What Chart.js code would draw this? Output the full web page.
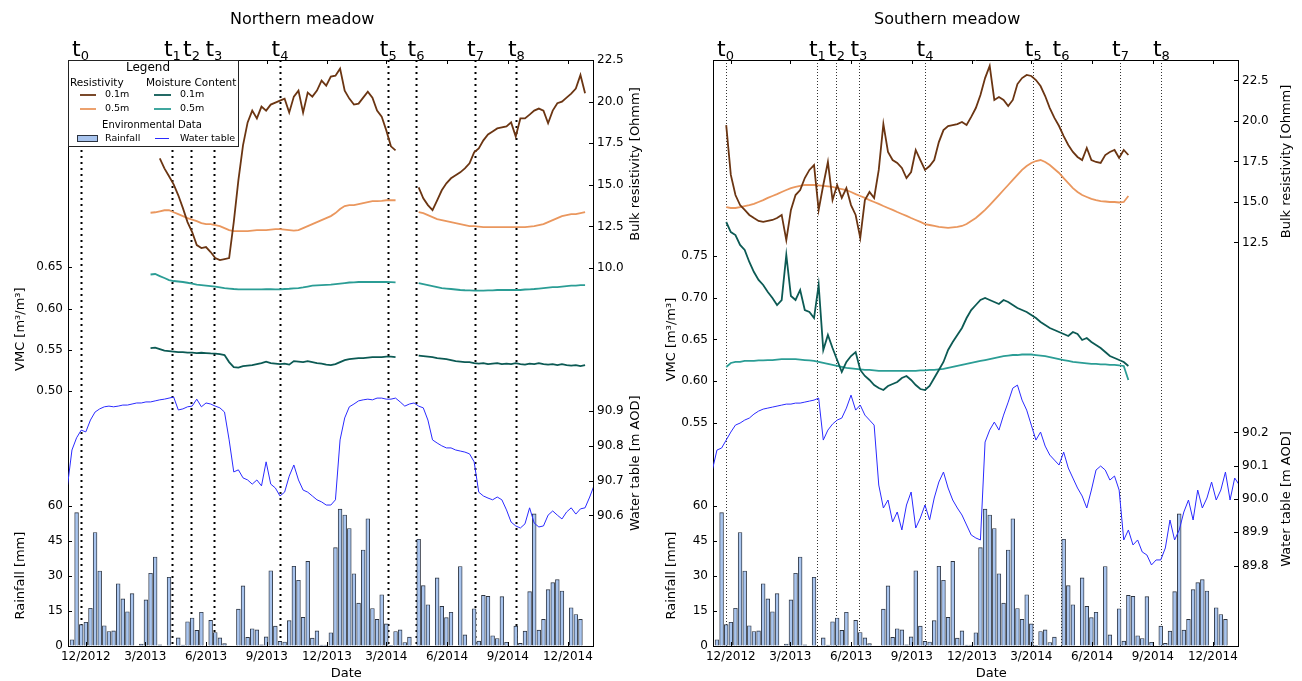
<!DOCTYPE html>
<html>
<head>
<meta charset="utf-8">
<script src="https://cdn.jsdelivr.net/npm/chart.js@4.4.1/dist/chart.umd.min.js"></script>
<style>
  body { margin: 0; background: #fff; width: 1302px; height: 681px; overflow: hidden; position: relative; }
  canvas { position: absolute; top: 0; }
  #north { left: 0; }
  #south { left: 651px; }
</style>
</head>
<body>
<canvas id="north" width="651" height="681"></canvas>
<canvas id="south" width="651" height="681"></canvas>
<script>
Chart.defaults.font.family = "'DejaVu Sans', sans-serif";
Chart.defaults.color = '#000';

// x axis labels and sampling times
const xTickDates = ['2012-12-01', '2013-03-01', '2013-06-01', '2013-09-01', '2013-12-01', '2014-03-01', '2014-06-01', '2014-09-01', '2014-12-01'];
const xTickLabels = ['12/2012', '3/2013', '6/2013', '9/2013', '12/2013', '3/2014', '6/2014', '9/2014', '12/2014'];
const eventDates = ['2012-11-23', '2013-04-11', '2013-05-10', '2013-06-13', '2013-09-21', '2014-03-04', '2014-04-15', '2014-07-14', '2014-09-14'];
const eventNames = ['0', '1', '2', '3', '4', '5', '6', '7', '8'];

// weekly rainfall [mm], first week starting 10/11/2012
const rainStart = '2012-11-10';
const rainfall = [2.5, 57, 9, 10, 16, 48.5, 32, 8.5, 6, 6.3,
  26.5, 20, 14.5, 22.3, 0, 0.6, 19.6, 31, 38, 0.3,
  0, 29.3, 0, 3.3, 0.2, 10.2, 11.8, 6.5, 14.3, 0,
  10.8, 5.6, 3.3, 0.8, 0, 0, 15.6, 25.6, 3.5, 7.2,
  6.7, 0.3, 3.7, 32.1, 8.3, 1.8, 1.5, 10.7, 34, 28,
  12.1, 36.1, 3.2, 6.3, 0.2, 0.2, 5.5, 42, 58.5, 56,
  50.2, 30.8, 18.2, 41, 54.4, 15.9, 11.2, 21.8, 9.3, 0.1,
  6, 6.7, 1.3, 3.6, 0, 45.6, 25.7, 17.5, 0, 29,
  16.8, 12, 14.3, 0, 33.9, 4.6, 0, 15.8, 1.9, 21.5,
  21.1, 4.2, 3, 21, 1.4, 0, 8.3, 0.9, 6.2, 23.1,
  56.5, 6.6, 11.2, 24, 27, 28.3, 23.4, 0, 16.2, 13.3,
  11.2, 0];

// water table [m AOD], weekly from 03/11/2012
const waterStart = '2012-11-03';
const northWater = [90.682, 90.788, 90.823, 90.845, 90.840, 90.874, 90.897, 90.906, 90.912, 90.914,
  90.912, 90.914, 90.917, 90.917, 90.920, 90.923, 90.923, 90.926, 90.926, 90.929,
  90.932, 90.934, 90.937, 90.940, 90.903, 90.906, 90.912, 90.914, 90.934, 90.912,
  90.923, 90.920, 90.914, 90.909, 90.897, 90.817, 90.725, 90.731, 90.708, 90.702,
  90.690, 90.702, 90.685, 90.754, 90.690, 90.679, 90.656, 90.667, 90.713, 90.745,
  90.702, 90.673, 90.667, 90.656, 90.645, 90.639, 90.630, 90.630, 90.645, 90.817,
  90.880, 90.912, 90.920, 90.929, 90.932, 90.934, 90.932, 90.937, 90.937, 90.934,
  90.934, 90.937, 90.926, 90.914, 90.920, 90.923, 90.914, 90.909, 90.874, 90.817,
  90.808, 90.800, 90.794, 90.794, 90.788, 90.785, 90.782, 90.777, 90.754, 90.667,
  90.656, 90.650, 90.645, 90.653, 90.645, 90.616, 90.581, 90.570, 90.564, 90.576,
  90.622, 90.578, 90.567, 90.570, 90.601, 90.613, 90.601, 90.590, 90.610, 90.622,
  90.604, 90.619, 90.622, 90.653, 90.688];
const southWater = [90.087, 90.147, 90.153, 90.177, 90.201, 90.222, 90.228, 90.237, 90.243, 90.255,
  90.264, 90.270, 90.273, 90.276, 90.279, 90.282, 90.285, 90.285, 90.288, 90.288,
  90.291, 90.294, 90.297, 90.303, 90.177, 90.207, 90.225, 90.237, 90.243, 90.273,
  90.312, 90.267, 90.282, 90.252, 90.237, 90.222, 90.042, 89.973, 89.997, 89.931,
  89.961, 89.907, 89.982, 90.021, 89.913, 89.943, 89.982, 89.937, 90.003, 90.051,
  90.081, 90.033, 89.997, 89.973, 89.952, 89.922, 89.892, 89.883, 89.877, 90.171,
  90.207, 90.231, 90.207, 90.252, 90.291, 90.333, 90.342, 90.297, 90.267, 90.222,
  90.177, 90.201, 90.159, 90.132, 90.117, 90.102, 90.141, 90.093, 90.063, 90.033,
  90.009, 89.973, 90.027, 90.087, 90.099, 90.087, 90.057, 90.069, 90.027, 89.877,
  89.907, 89.862, 89.877, 89.841, 89.832, 89.802, 89.817, 89.817, 89.853, 89.937,
  89.877, 89.907, 89.961, 89.997, 89.937, 90.027, 89.973, 90.003, 90.051, 89.997,
  90.027, 90.081, 89.997, 90.063, 90.042];

// Northern meadow, weekly from 09/03/2013 (null = no logger data)
const northStart = '2013-03-09';
const northRes01 = [null, null,
  16.59, 15.99, 15.51, 15.03, 14.37, 13.60, 12.76, 12.16, 11.38, 11.20,
  11.26, 10.96, 10.60, 10.48, 10.54, 10.60, 12.76, 15.27, 17.37, 18.75,
  19.46, 18.99, 19.70, 19.46, 19.82, 19.94, 20.06, 20.18, 19.34, 20.30,
  20.66, 19.34, 20.54, 20.30, 20.66, 21.26, 20.96, 21.50, 21.56, 21.98,
  20.66, 20.18, 19.82, 19.88, 20.24, 20.60, 20.24, 19.46, 19.10, 18.27,
  17.31, 17.07,
  null, null, null, null,
  14.85, 14.19, 13.78, 13.48, 14.07, 14.67, 15.09, 15.39, 15.57, 15.75,
  15.99, 16.29, 16.95, 17.19, 17.67, 18.03, 18.21, 18.39, 18.45, 18.51,
  18.75, 17.90, 18.99, 18.99, 19.22, 19.46, 19.58, 19.46, 18.70, 19.46,
  19.90, 20.00, 20.24, 20.48, 20.78, 21.60, 20.50];
const northRes05 = [13.32, 13.35, 13.41, 13.47, 13.47, 13.35, 13.24, 13.12, 13.00, 12.91,
  12.82, 12.70, 12.64, 12.64, 12.58, 12.52, 12.40, 12.28, 12.22, 12.22,
  12.22, 12.22, 12.25, 12.28, 12.28, 12.28, 12.31, 12.34, 12.34, 12.31,
  12.28, 12.25, 12.28, 12.40, 12.52, 12.64, 12.76, 12.88, 13.00, 13.12,
  13.30, 13.54, 13.72, 13.78, 13.78, 13.84, 13.90, 13.96, 14.02, 14.02,
  14.04, 14.07, 14.07, 14.07,
  null, null, null, null,
  13.36, 13.30, 13.18, 13.06, 12.94, 12.88, 12.82, 12.76, 12.70, 12.64,
  12.58, 12.52, 12.52, 12.49, 12.46, 12.46, 12.46, 12.46, 12.46, 12.46,
  12.46, 12.46, 12.46, 12.46, 12.49, 12.52, 12.58, 12.64, 12.76, 12.88,
  13.00, 13.12, 13.18, 13.24, 13.24, 13.30, 13.36];
const northVmc01 = [0.5521, 0.5527, 0.5508, 0.5490, 0.5484, 0.5478, 0.5472, 0.5472, 0.5466, 0.5466,
  0.5460, 0.5464, 0.5460, 0.5456, 0.5454, 0.5448, 0.5436, 0.5351, 0.5290, 0.5284,
  0.5302, 0.5308, 0.5314, 0.5326, 0.5339, 0.5357, 0.5339, 0.5333, 0.5326, 0.5333,
  0.5320, 0.5363, 0.5357, 0.5351, 0.5363, 0.5351, 0.5339, 0.5333, 0.5320, 0.5314,
  0.5326, 0.5351, 0.5375, 0.5387, 0.5393, 0.5399, 0.5399, 0.5405, 0.5411, 0.5411,
  0.5411, 0.5417, 0.5417, 0.5411,
  null, null, null, null,
  0.5430, 0.5424, 0.5417, 0.5411, 0.5399, 0.5393, 0.5387, 0.5375, 0.5363, 0.5357,
  0.5351, 0.5351, 0.5339, 0.5333, 0.5339, 0.5326, 0.5333, 0.5339, 0.5326, 0.5333,
  0.5326, 0.5339, 0.5326, 0.5320, 0.5333, 0.5326, 0.5339, 0.5326, 0.5320, 0.5326,
  0.5314, 0.5326, 0.5314, 0.5308, 0.5314, 0.5302, 0.5314];
const northVmc05 = [0.6413, 0.6419, 0.6394, 0.6370, 0.6346, 0.6334, 0.6328, 0.6322, 0.6313, 0.6303,
  0.6291, 0.6285, 0.6279, 0.6273, 0.6265, 0.6257, 0.6249, 0.6243, 0.6237, 0.6233,
  0.6233, 0.6233, 0.6233, 0.6233, 0.6233, 0.6234, 0.6234, 0.6233, 0.6233, 0.6237,
  0.6240, 0.6245, 0.6249, 0.6257, 0.6267, 0.6277, 0.6282, 0.6285, 0.6288, 0.6291,
  0.6297, 0.6303, 0.6309, 0.6316, 0.6318, 0.6322, 0.6322, 0.6322, 0.6322, 0.6322,
  0.6322, 0.6322, 0.6320, 0.6318,
  null, null, null, null,
  0.6309, 0.6297, 0.6285, 0.6273, 0.6261, 0.6249, 0.6243, 0.6237, 0.6231, 0.6225,
  0.6222, 0.6221, 0.6218, 0.6218, 0.6218, 0.6221, 0.6221, 0.6225, 0.6225, 0.6225,
  0.6225, 0.6225, 0.6225, 0.6231, 0.6233, 0.6237, 0.6243, 0.6249, 0.6255, 0.6261,
  0.6261, 0.6267, 0.6273, 0.6277, 0.6279, 0.6285, 0.6285];

// Southern meadow, weekly from 24/11/2012
const southStart = '2012-11-24';
const southRes01 = [19.75, 16.67, 15.43, 14.81, 14.51, 14.20, 14.01, 13.83, 13.77, 13.83,
  13.89, 14.01, 14.20, 12.65, 14.51, 15.43, 15.74, 16.48, 16.98, 17.28,
  14.51, 16.05, 17.47, 15.12, 16.05, 15.25, 15.86, 14.81, 14.20, 12.78,
  15.12, 15.62, 15.25, 16.98, 19.81, 18.09, 17.59, 17.41, 17.10, 16.48,
  16.85, 18.21, 17.59, 16.98, 17.22, 17.59, 18.70, 19.44, 19.69, 19.75,
  19.81, 19.94, 19.75, 20.25, 20.80, 21.60, 22.65, 23.40, 21.30, 21.48,
  21.30, 20.93, 21.30, 22.28, 22.65, 22.84, 22.78, 22.53, 22.16, 21.54,
  20.80, 20.19, 19.69, 19.07, 18.52, 18.09, 17.78, 17.59, 18.33, 17.59,
  17.47, 17.41, 17.90, 18.09, 18.21, 17.72, 18.21, 17.90];
const southRes05 = [14.69, 14.63, 14.63, 14.69, 14.75, 14.81, 14.88, 15.00, 15.12, 15.25,
  15.37, 15.49, 15.62, 15.74, 15.86, 15.93, 15.99, 16.05, 16.05, 16.05,
  16.02, 15.99, 15.96, 15.93, 15.86, 15.80, 15.74, 15.62, 15.49, 15.37,
  15.25, 15.12, 15.00, 14.88, 14.75, 14.63, 14.51, 14.38, 14.26, 14.14,
  14.01, 13.89, 13.77, 13.64, 13.58, 13.52, 13.46, 13.43, 13.40, 13.43,
  13.46, 13.52, 13.64, 13.83, 14.01, 14.26, 14.51, 14.81, 15.12, 15.43,
  15.74, 16.05, 16.36, 16.67, 16.98, 17.22, 17.41, 17.53, 17.59, 17.47,
  17.28, 17.04, 16.79, 16.48, 16.17, 15.86, 15.62, 15.43, 15.31, 15.19,
  15.12, 15.06, 15.03, 15.00, 15.00, 14.97, 15.00, 15.37];
const southVmc01 = [0.7907, 0.7787, 0.7751, 0.7632, 0.7572, 0.7428, 0.7308, 0.7213, 0.7153, 0.7069,
  0.6997, 0.6913, 0.6973, 0.7512, 0.7021, 0.6973, 0.7093, 0.6853, 0.6829, 0.6757,
  0.7153, 0.6374, 0.6554, 0.6398, 0.6254, 0.6111, 0.6231, 0.6302, 0.6350, 0.6135,
  0.6063, 0.6015, 0.5955, 0.5919, 0.5895, 0.5943, 0.5967, 0.5991, 0.6039, 0.6063,
  0.6015, 0.5955, 0.5907, 0.5895, 0.5943, 0.6039, 0.6135, 0.6231, 0.6374, 0.6470,
  0.6554, 0.6638, 0.6757, 0.6853, 0.6913, 0.6973, 0.6997, 0.6973, 0.6949, 0.6925,
  0.6973, 0.6949, 0.6913, 0.6877, 0.6853, 0.6829, 0.6793, 0.6757, 0.6710, 0.6674,
  0.6638, 0.6614, 0.6590, 0.6566, 0.6542, 0.6590, 0.6566, 0.6494, 0.6518, 0.6470,
  0.6434, 0.6398, 0.6350, 0.6302, 0.6278, 0.6254, 0.6231, 0.6183];
const southVmc05 = [0.6171, 0.6219, 0.6231, 0.6231, 0.6243, 0.6243, 0.6243, 0.6249, 0.6249, 0.6254,
  0.6254, 0.6260, 0.6266, 0.6266, 0.6266, 0.6266, 0.6260, 0.6254, 0.6249, 0.6243,
  0.6231, 0.6219, 0.6207, 0.6195, 0.6183, 0.6171, 0.6159, 0.6153, 0.6147, 0.6141,
  0.6135, 0.6135, 0.6129, 0.6123, 0.6123, 0.6123, 0.6123, 0.6123, 0.6123, 0.6123,
  0.6123, 0.6123, 0.6129, 0.6129, 0.6135, 0.6135, 0.6141, 0.6147, 0.6159, 0.6171,
  0.6183, 0.6195, 0.6207, 0.6219, 0.6231, 0.6243, 0.6254, 0.6266, 0.6278, 0.6290,
  0.6302, 0.6308, 0.6314, 0.6314, 0.6320, 0.6320, 0.6320, 0.6314, 0.6308, 0.6302,
  0.6290, 0.6278, 0.6266, 0.6254, 0.6243, 0.6231, 0.6225, 0.6219, 0.6213, 0.6207,
  0.6207, 0.6201, 0.6201, 0.6195, 0.6195, 0.6189, 0.6183, 0.6015];

// tick values shown on each axis
const rainTicks = [0, 15, 30, 45, 60];
const vmcTicksN = [0.50, 0.55, 0.60, 0.65];
const vmcTicksS = [0.55, 0.60, 0.65, 0.70, 0.75];
const resTicksN = [10, 12.5, 15, 17.5, 20, 22.5];
const resTicksS = [12.5, 15, 17.5, 20, 22.5];
const waterTicksN = [90.6, 90.7, 90.8, 90.9];
const waterTicksS = [89.8, 89.9, 90.0, 90.1, 90.2];

const DAY = 86400000;
const ORIGIN = Date.UTC(2012, 11, 1);
function dayOf(s) {
  const [y, m, d] = s.split('-').map(Number);
  return (Date.UTC(y, m - 1, d) - ORIGIN) / DAY;
}
function weekly(start, values) {
  const d0 = dayOf(start);
  return values.map((v, i) => ({ x: d0 + 7 * i, y: v }));
}

const FONT = "'DejaVu Sans', sans-serif";
const BROWN = '#6b3512', ORANGE = '#ea975e', DTEAL = '#0c5a54', TEAL = '#2b9d95', BLUE = '#2a2aff';
const BAR_FILL = '#a8c4ee', BAR_EDGE = '#2d3440';

function yScale(o) {
  return {
    type: 'linear', position: o.pos, stack: o.pos, stackWeight: o.size, weight: o.order,
    min: o.min, max: o.max,
    grid: { display: false, drawTicks: false },
    border: { display: true, color: '#000', width: 1 },
    ticks: { autoSkip: false, padding: o.pos === 'left' ? 5 : 4, color: '#000', font: { size: 12 },
      callback: v => v.toFixed(o.digits) },
    afterBuildTicks: s => { s.ticks = o.ticks.map(v => ({ value: v })); },
    afterFit: s => { s.width = o.width; }
  };
}

function rotText(ctx, text, x, y) {
  ctx.save();
  ctx.translate(x, y);
  ctx.rotate(-Math.PI / 2);
  ctx.textAlign = 'center';
  ctx.textBaseline = 'middle';
  ctx.fillText(text, 0, 0);
  ctx.restore();
}

function drawLegend(chart) {
  const { ctx, chartArea: a } = chart;
  const L = a.left, T = a.top;
  const ds = label => chart.data.datasets.find(d => d.label === label);
  const sample = (d, x0, x1, y) => {
    ctx.strokeStyle = d.borderColor; ctx.lineWidth = d.borderWidth;
    ctx.beginPath(); ctx.moveTo(x0, y); ctx.lineTo(x1, y); ctx.stroke();
  };
  ctx.save();
  ctx.fillStyle = '#fff';
  ctx.fillRect(L, T, 170, 86);
  ctx.strokeStyle = '#222'; ctx.lineWidth = 1;
  ctx.strokeRect(L + 0.5, T + 0.5, 170, 86);
  ctx.fillStyle = '#000'; ctx.textBaseline = 'middle';
  ctx.font = '12px ' + FONT; ctx.textAlign = 'center';
  ctx.fillText('Legend', L + 80, T + 8);
  ctx.font = '10.5px ' + FONT; ctx.textAlign = 'left';
  ctx.fillText('Resistivity', L + 2, T + 23);
  ctx.fillText('Moisture Content', L + 78, T + 23);
  const rows = [['Resistivity 0.1m', 'Moisture 0.1m'], ['Resistivity 0.5m', 'Moisture 0.5m']];
  ctx.font = '9.5px ' + FONT;
  rows.forEach((r, i) => {
    const y = T + 35 + i * 14;
    const dl = ds(r[0]), dr = ds(r[1]);
    sample(dl, L + 12, L + 28, y); sample(dr, L + 86, L + 103, y);
    ctx.fillStyle = '#000';
    ctx.fillText(dl.label.split(' ')[1], L + 37, y);
    ctx.fillText(dr.label.split(' ')[1], L + 112, y);
  });
  ctx.font = '10px ' + FONT; ctx.textAlign = 'center';
  ctx.fillText('Environmental Data', L + 84, T + 65);
  const rain = ds('Rainfall'), wt = ds('Water table');
  ctx.fillStyle = rain.backgroundColor; ctx.fillRect(L + 9.5, T + 75.5, 20, 6);
  ctx.strokeStyle = rain.borderColor; ctx.lineWidth = 1; ctx.strokeRect(L + 9.5, T + 75.5, 20, 6);
  sample(wt, L + 87, L + 101, T + 78.5);
  ctx.fillStyle = '#000'; ctx.font = '9.5px ' + FONT; ctx.textAlign = 'left';
  ctx.fillText(rain.label, L + 37, T + 78.5);
  ctx.fillText(wt.label, L + 112, T + 78.5);
  ctx.restore();
}

const decor = {
  id: 'decor',
  beforeDatasetsDraw(chart, args, o) {
    const { ctx, chartArea: a, scales: { x } } = chart;
    ctx.save();
    ctx.strokeStyle = o.dotColor; ctx.lineWidth = o.dotWidth; ctx.setLineDash(o.dotDash);
    eventDates.forEach(d => {
      const px = Math.round(x.getPixelForValue(dayOf(d))) + 0.5;
      ctx.beginPath(); ctx.moveTo(px, a.top); ctx.lineTo(px, a.bottom); ctx.stroke();
    });
    ctx.restore();
  },
  afterDraw(chart, args, o) {
    const { ctx, chartArea: a, scales } = chart;
    const x = scales.x;
    ctx.save();
    // frame and inward tick marks
    ctx.strokeStyle = '#000'; ctx.lineWidth = 1;
    ctx.beginPath(); ctx.moveTo(a.left, a.top + 0.5); ctx.lineTo(a.right, a.top + 0.5); ctx.stroke();
    ctx.beginPath();
    x.ticks.forEach(t => {
      const px = Math.round(x.getPixelForValue(t.value)) + 0.5;
      ctx.moveTo(px, a.top); ctx.lineTo(px, a.top + 4);
      ctx.moveTo(px, a.bottom); ctx.lineTo(px, a.bottom - 4);
    });
    ['yVmc', 'yRain', 'yRes', 'yWater'].forEach(id => {
      const s = scales[id];
      s.ticks.forEach(t => {
        const py = Math.round(s.getPixelForValue(t.value)) + 0.5;
        if (s.position === 'left') { ctx.moveTo(a.left, py); ctx.lineTo(a.left + 4, py); }
        else { ctx.moveTo(a.right, py); ctx.lineTo(a.right - 4, py); }
      });
    });
    ctx.stroke();
    // axis titles, centred on the labelled part of each axis
    ctx.fillStyle = '#000'; ctx.font = '13px ' + FONT;
    o.axisTitles.forEach(t => {
      const s = scales[t.scale];
      const yc = (s.getPixelForValue(s.ticks[0].value) + s.getPixelForValue(s.ticks[s.ticks.length - 1].value)) / 2;
      rotText(ctx, t.text, s.position === 'left' ? s.left + 21 : s.right - 15, yc);
    });
    ctx.textAlign = 'center'; ctx.textBaseline = 'middle';
    ctx.fillText('Date', a.left + a.width * 0.53, 674);
    ctx.font = '16px ' + FONT;
    ctx.fillText(o.title, a.left + a.width * 0.446, 20);
    // sampling time labels t0..t8
    ctx.textAlign = 'left'; ctx.textBaseline = 'alphabetic';
    eventDates.forEach((d, i) => {
      const px = x.getPixelForValue(dayOf(d));
      ctx.font = '22px ' + FONT; const wt = ctx.measureText('t').width;
      ctx.font = '13px ' + FONT; const ws = ctx.measureText(eventNames[i]).width;
      const x0 = px - (wt + ws) / 2;
      ctx.font = '22px ' + FONT; ctx.fillText('t', x0, a.top - 4);
      ctx.font = '13px ' + FONT; ctx.fillText(eventNames[i], x0 + wt, a.top - 0.5);
    });
    ctx.restore();
    if (o.legend) drawLegend(chart);
  }
};

function buildPanel(canvasId, p) {
  const datasets = [
    { type: 'bar', label: 'Rainfall', data: weekly(rainStart, rainfall), yAxisID: 'yRain',
      backgroundColor: BAR_FILL, borderColor: BAR_EDGE, borderWidth: 0.9, barThickness: 3.8, order: 10 },
    { type: 'line', label: 'Water table', data: weekly(waterStart, p.water), yAxisID: 'yWater',
      borderColor: BLUE, borderWidth: 1, pointRadius: 0, order: 5 },
    { type: 'line', label: 'Resistivity 0.5m', data: weekly(p.start, p.res05), yAxisID: 'yRes',
      borderColor: ORANGE, borderWidth: 1.8, pointRadius: 0, order: 4 },
    { type: 'line', label: 'Resistivity 0.1m', data: weekly(p.start, p.res01), yAxisID: 'yRes',
      borderColor: BROWN, borderWidth: 1.8, pointRadius: 0, order: 3 },
    { type: 'line', label: 'Moisture 0.5m', data: weekly(p.start, p.vmc05), yAxisID: 'yVmc',
      borderColor: TEAL, borderWidth: 1.8, pointRadius: 0, order: 2 },
    { type: 'line', label: 'Moisture 0.1m', data: weekly(p.start, p.vmc01), yAxisID: 'yVmc',
      borderColor: DTEAL, borderWidth: 1.8, pointRadius: 0, order: 1 }
  ];
  const tickDays = xTickDates.map(dayOf);
  return new Chart(document.getElementById(canvasId), {
    type: 'bar',
    data: { datasets },
    plugins: [decor],
    options: {
      responsive: false, animation: false, events: [],
      layout: { padding: { top: 60, left: 0, right: 0, bottom: 0 } },
      plugins: {
        legend: { display: false }, tooltip: { enabled: false },
        decor: { title: p.title, legend: p.legend, dotColor: p.dotColor, dotWidth: p.dotWidth, dotDash: p.dotDash,
          axisTitles: [
            { scale: 'yVmc', text: 'VMC [m³/m³]' },
            { scale: 'yRain', text: 'Rainfall [mm]' },
            { scale: 'yRes', text: 'Bulk resistivity [Ohmm]' },
            { scale: 'yWater', text: 'Water table [m AOD]' }
          ] }
      },
      scales: {
        x: {
          type: 'linear', min: -27, max: 768, offset: false,
          grid: { display: false, drawTicks: false },
          border: { display: true, color: '#000' },
          ticks: { autoSkip: false, maxRotation: 0, padding: 4, color: '#000', font: { size: 12 },
            callback: (v, i) => xTickLabels[i] },
          afterBuildTicks: s => { s.ticks = tickDays.map(v => ({ value: v })); },
          afterFit: s => { s.height = 35; }
        },
        yVmc: yScale({ pos: 'left', order: 2, size: 445, width: p.leftW, digits: 2, ticks: p.vmcTicks, min: p.vmcRange[0], max: p.vmcRange[1] }),
        yRain: yScale({ pos: 'left', order: 1, size: 141, width: p.leftW, digits: 0, ticks: rainTicks, min: -0.2, max: 60.3 }),
        yRes: yScale({ pos: 'right', order: 1, size: 280, width: p.rightW, digits: 1, ticks: p.resTicks, min: p.resRange[0], max: p.resRange[1] }),
        yWater: yScale({ pos: 'right', order: 2, size: 306, width: p.rightW, digits: 1, ticks: p.waterTicks, min: p.waterRange[0], max: p.waterRange[1] })
      }
    }
  });
}

buildPanel('north', {
  title: 'Northern meadow', legend: true, leftW: 68, rightW: 58,
  dotColor: '#000', dotWidth: 2, dotDash: [2, 4],
  start: northStart, res01: northRes01, res05: northRes05, vmc01: northVmc01, vmc05: northVmc05, water: northWater,
  vmcTicks: vmcTicksN, resTicks: resTicksN, waterTicks: waterTicksN,
  vmcRange: [0.3618, 0.9014], resRange: [5.673, 22.5], waterRange: [90.2253, 91.1038]
});
buildPanel('south', {
  title: 'Southern meadow', legend: false, leftW: 62, rightW: 64,
  dotColor: '#333', dotWidth: 1, dotDash: [1, 2],
  start: southStart, res01: southRes01, res05: southRes05, vmc01: southVmc01, vmc05: southVmc05, water: southWater,
  vmcTicks: vmcTicksS, resTicks: resTicksS, waterTicks: waterTicksS,
  vmcRange: [0.4518, 0.9847], resRange: [6.4815, 23.765], waterRange: [89.5586, 90.4775]
});
</script>
</body>
</html>
